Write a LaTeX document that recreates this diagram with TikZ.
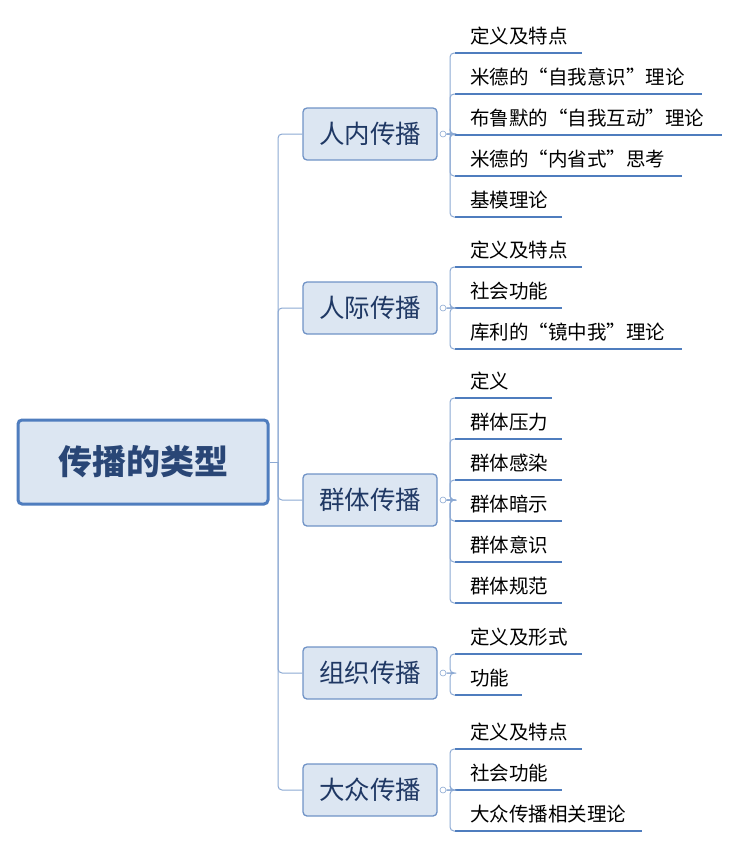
\documentclass[tikz,border=0pt]{standalone}
\usepackage{fontspec}
\newfontfamily\cjk{Noto Sans CJK SC}
\begin{document}
\begin{tikzpicture}[x=1pt,y=-1pt,
  conn/.style={draw=lineC,line width=1pt,rounded corners=4pt},
  uline/.style={draw=ulC,line width=2.6pt},
  branch/.style={draw=boxB,line width=1.3pt,fill=boxF,rounded corners=4pt,minimum width=134pt,minimum height=52pt,font=\cjk\fontsize{25.5}{25.5}\selectfont,text=txtC,inner sep=0pt},
  leaf/.style={anchor=base west,font=\cjk\fontsize{19.5}{19.5}\selectfont,inner sep=0pt}]
\definecolor{lineC}{HTML}{8CA9D3}
\definecolor{ulC}{HTML}{4F7DBE}
\definecolor{boxB}{HTML}{7093C6}
\definecolor{boxF}{HTML}{DCE6F2}
\definecolor{txtC}{HTML}{1F3864}
\useasboundingbox (0,0) rectangle (740,849);
\node[branch,draw=ulC,line width=3pt,minimum width=250pt,minimum height=84pt,text=txtC!80!ulC,font=\cjk\bfseries\fontsize{34}{34}\selectfont] (root) at (143,462) {传播的类型};
\coordinate (trunk) at (278,462);
\draw[conn] (root.east) -- (trunk);
\newcommand\grp[3]{%
  \node[branch] (#1) at (370,#2) {#3};
  \draw[conn] (trunk) |- (#1.west);
  \draw[lineC,fill=white,line width=0.6pt] (443,#2) circle (3pt);
}
\newcommand\lf[5]{% name, parent, y(underline), xend, text
  \node[leaf] (#1) at (470,#3-10) {#5};
  \coordinate (#1s) at (455,#3);
  \coordinate (#1e) at (#4,#3);
  \draw[uline] (#1s) -- (#1e);
  \draw[conn] ([xshift=9pt]#2.east) -- ++(4pt,0) -| ([xshift=-5pt]#1s) -- (#1s);
}
\grp{a}{134}{人内传播}
\grp{b}{308}{人际传播}
\grp{c}{500}{群体传播}
\grp{d}{673}{组织传播}
\grp{e}{790}{大众传播}
\lf{a1}{a}{53}{582}{定义及特点}
\lf{a2}{a}{94}{702}{米德的“自我意识”理论}
\lf{a3}{a}{135}{722}{布鲁默的“自我互动”理论}
\lf{a4}{a}{176}{682}{米德的“内省式”思考}
\lf{a5}{a}{217}{562}{基模理论}
\lf{b1}{b}{267}{582}{定义及特点}
\lf{b2}{b}{308}{562}{社会功能}
\lf{b3}{b}{349}{682}{库利的“镜中我”理论}
\lf{c1}{c}{398}{552}{定义}
\lf{c2}{c}{439}{562}{群体压力}
\lf{c3}{c}{480}{562}{群体感染}
\lf{c4}{c}{521}{562}{群体暗示}
\lf{c5}{c}{562}{562}{群体意识}
\lf{c6}{c}{603}{562}{群体规范}
\lf{d1}{d}{654}{582}{定义及形式}
\lf{d2}{d}{695}{522}{功能}
\lf{e1}{e}{749}{582}{定义及特点}
\lf{e2}{e}{790}{562}{社会功能}
\lf{e3}{e}{831}{642}{大众传播相关理论}
\end{tikzpicture}
\end{document}
